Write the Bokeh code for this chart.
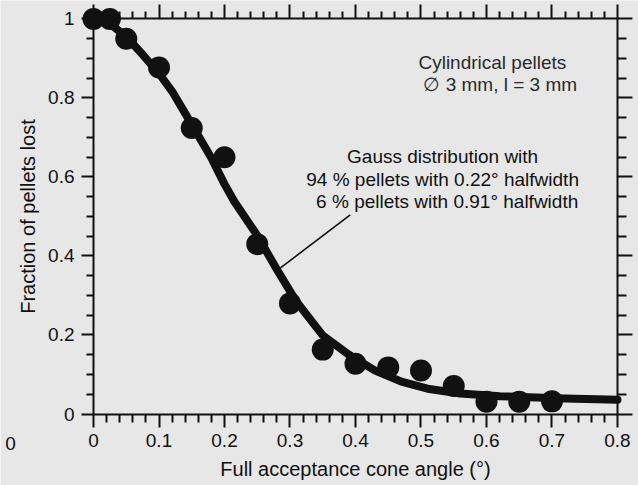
from bokeh.plotting import figure
from bokeh.models import Range1d, LinearAxis, FixedTicker, CustomJSTickFormatter
from bokeh.core.properties import value
from bokeh.embed import file_html
from bokeh.resources import INLINE

# ---------------- data ----------------
angle_pts = [0.0, 0.025, 0.05, 0.1, 0.15, 0.2, 0.25, 0.3, 0.35, 0.4,
             0.45, 0.5, 0.55, 0.6, 0.65, 0.7]
lost_pts = [1.0, 1.0, 0.95, 0.877, 0.724, 0.65, 0.43, 0.28, 0.163, 0.127,
            0.118, 0.11, 0.071, 0.031, 0.031, 0.032]

angle_fit = [0.0, 0.02, 0.05, 0.075, 0.1, 0.12, 0.135, 0.15, 0.18, 0.2,
             0.215, 0.25, 0.28, 0.31, 0.35, 0.39, 0.43, 0.47, 0.51, 0.56,
             0.62, 0.72, 0.8]
lost_fit = [1.0, 0.995, 0.955, 0.91, 0.862, 0.817, 0.775, 0.733, 0.648, 0.582,
            0.538, 0.452, 0.366, 0.284, 0.199, 0.150, 0.110, 0.082, 0.064, 0.052,
            0.045, 0.039, 0.036]

x_major = [0.0, 0.1, 0.2, 0.3, 0.4, 0.5, 0.6, 0.7, 0.8]
x_minor = [round(0.02 * i, 2) for i in range(41) if i % 5 != 0]
y_major = [0.0, 0.2, 0.4, 0.6, 0.8, 1.0]
y_minor = [round(0.05 * i, 2) for i in range(21) if i % 4 != 0]

x_title = "Full acceptance cone angle (°)"
y_title = "Fraction of pellets lost"
note_lines = ["Gauss distribution with",
              "94 % pellets with 0.22° halfwidth",
              "6 % pellets with 0.91° halfwidth"]
sample_lines = ["Cylindrical pellets", "∅ 3 mm, l = 3 mm"]
stray_label = "0"

# annotation placement (data coordinates)
note_x = [0.533, 0.533, 0.540]
note_y = [0.651, 0.593, 0.537]
sample_x = [0.609, 0.621]
sample_y = [0.890, 0.834]
leader_x = [0.2855, 0.392]
leader_y = [0.370, 0.504]

# ---------------- styling ----------------
BG = "#e7e7e7"
INK = "#111111"
FONT = "Liberation Sans"

p = figure(width=638, height=485, output_backend="svg", toolbar_location=None,
           x_range=Range1d(-0.1420, 0.8321), y_range=Range1d(-0.1810, 1.0468),
           min_border=0, background_fill_color=BG, border_fill_color=BG,
           outline_line_color=None, sizing_mode="fixed")
p.grid.visible = False

fmt = CustomJSTickFormatter(code="return String(Math.round(tick*10)/10);")


def style_axis(ax, major_out, minor_out, labels=True):
    ax.axis_line_color = INK
    ax.axis_line_width = 2
    ax.major_tick_line_color = INK
    ax.major_tick_line_width = 2
    ax.minor_tick_line_color = INK
    ax.minor_tick_line_width = 2
    ax.major_tick_in = 0
    ax.minor_tick_in = 0
    ax.major_tick_out = major_out
    ax.minor_tick_out = minor_out
    ax.major_label_text_font = FONT
    ax.major_label_text_font_size = "19px"
    ax.major_label_text_color = INK if labels else None
    ax.axis_label_text_font = FONT
    ax.axis_label_text_font_size = "20px"
    ax.axis_label_text_font_style = "normal"
    ax.axis_label_text_color = INK
    ax.formatter = fmt


# bottom axis
xa = p.xaxis[0]
xa.fixed_location = 0
xa.bounds = (0, 0.8)
xa.ticker = FixedTicker(ticks=x_major, minor_ticks=x_minor)
style_axis(xa, 13, 8)
xa.major_label_standoff = 7
xa.axis_label = x_title
xa.axis_label_standoff = 7

# left axis
ya = p.yaxis[0]
ya.fixed_location = 0
ya.bounds = (0, 1)
ya.ticker = FixedTicker(ticks=y_major, minor_ticks=y_minor)
style_axis(ya, 12, 7)
ya.major_label_standoff = 7
ya.axis_label = y_title
ya.axis_label_standoff = 6

# top axis
ta = LinearAxis(fixed_location=1, bounds=(0, 0.8),
                ticker=FixedTicker(ticks=x_major, minor_ticks=x_minor))
style_axis(ta, 14, 7, labels=False)
p.add_layout(ta, "above")

# right axis
ra = LinearAxis(fixed_location=0.8, bounds=(0, 1),
                ticker=FixedTicker(ticks=y_major, minor_ticks=y_minor))
style_axis(ra, 15, 9, labels=False)
p.add_layout(ra, "right")

# fitted curve
p.line(angle_fit, lost_fit, line_color=INK, line_width=8,
       line_join="round", line_cap="round")
# measured points
p.scatter(angle_pts, lost_pts, size=22, fill_color=INK, line_color=None)

# annotation leader line
p.line(leader_x, leader_y, line_color=INK, line_width=1.6)

p.text(note_x, note_y, text=note_lines, text_align="center", text_baseline="middle",
       text_font=value(FONT), text_font_size=value("19px"), text_color=INK)
p.text(sample_x, sample_y, text=sample_lines, text_align="center", text_baseline="middle",
       text_font=value(FONT), text_font_size=value("19px"), text_color="#2a2a2a")
p.text([-0.1267], [-0.075], text=[stray_label], text_align="center", text_baseline="middle",
       text_font=value(FONT), text_font_size=value("19px"), text_color=INK)

open("out.html", "w").write(file_html(p, INLINE))
